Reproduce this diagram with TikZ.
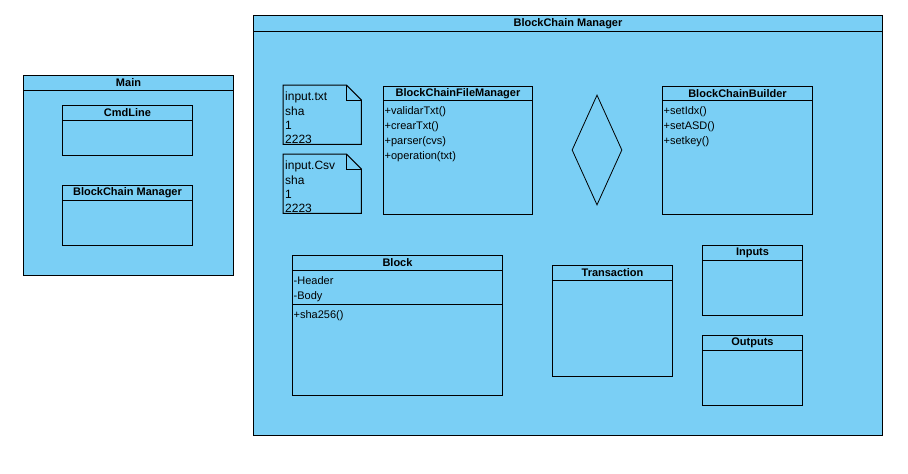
\documentclass[tikz,border=0pt]{standalone}
\usepackage{fontspec}
\setmainfont{Liberation Sans}
\usetikzlibrary{shapes.geometric}
\definecolor{umlblue}{RGB}{122,207,245}

\begin{document}
\begin{tikzpicture}
    [x=1pt,y=-1pt,
    box/.style={draw=black,fill=umlblue,line width=1pt,anchor=north west,inner sep=0pt},
    title/.style={font=\fontsize{11}{13}\selectfont\bfseries,minimum height=15,inner sep=0pt,anchor=north},
    ops/.style={align=left,anchor=north west,inner xsep=1.5pt,inner ysep=6pt,font=\fontsize{11}{15}\selectfont},
    note/.style={anchor=north west,minimum width=78,minimum height=59,inner sep=0pt},
    notetext/.style={align=left,anchor=north west,inner xsep=2pt,inner ysep=7pt,font=\fontsize{12}{14.3}\selectfont},
    edge/.style={line width=1pt}]

    \useasboundingbox (0,0) rectangle (908,474);

    % main package
    \node (main) [box,minimum width=210,minimum height=200] at (23,75) {};
    \node (mainT) [title] at (main.north) {Main};
    \draw [edge] (main.west |- mainT.south) -- (main.east |- mainT.south);

    \node (cmd) [box,minimum width=130,minimum height=50] at (62,105) {};
    \node (cmdT) [title] at (cmd.north) {CmdLine};
    \draw [edge] (cmd.west |- cmdT.south) -- (cmd.east |- cmdT.south);

    \node (ref) [box,minimum width=130,minimum height=60] at (62,185) {};
    \node (refT) [title] at (ref.north) {BlockChain Manager};
    \draw [edge] (ref.west |- refT.south) -- (ref.east |- refT.south);

    % blockchain manager package
    \node (mgr) [box,minimum width=629,minimum height=420] at (253,15) {};
    \node (mgrT) [title,minimum height=16] at (mgr.north) {BlockChain Manager};
    \draw [edge] (mgr.west |- mgrT.south) -- (mgr.east |- mgrT.south);

    % notes
    \node (txtnote) [note] at (283,85) {};
    \draw [edge,fill=umlblue] (txtnote.north west) -- ([xshift=-15pt]txtnote.north east)
      -- ([yshift=-15pt]txtnote.north east) -- (txtnote.south east) -- (txtnote.south west) -- cycle;
    \draw [edge] ([xshift=-15pt]txtnote.north east) |- ([yshift=-15pt]txtnote.north east);
    \node (txtnoteL) [notetext] at (txtnote.north west) {input.txt\\sha\\1\\2223};

    \node (csvnote) [note] at (283,154) {};
    \draw [edge,fill=umlblue] (csvnote.north west) -- ([xshift=-15pt]csvnote.north east)
      -- ([yshift=-15pt]csvnote.north east) -- (csvnote.south east) -- (csvnote.south west) -- cycle;
    \draw [edge] ([xshift=-15pt]csvnote.north east) |- ([yshift=-15pt]csvnote.north east);
    \node (csvnoteL) [notetext] at (csvnote.north west) {input.Csv\\sha\\1\\2223};

    % classes
    \node (files) [box,minimum width=149,minimum height=128] at (383,86) {};
    \node (filesT) [title,minimum height=14] at (files.north) {BlockChainFileManager};
    \draw [edge] (files.west |- filesT.south) -- (files.east |- filesT.south);
    \node (filesOps) [ops] at (files.west |- filesT.south) {+validarTxt()\\+crearTxt()\\+parser(cvs)\\+operation(txt)};

    \node (choice) [diamond,draw=black,line width=0.8pt,minimum width=50,minimum height=110,inner sep=0pt] at (597,150) {};

    \node (builder) [box,minimum width=150,minimum height=128] at (662,86) {};
    \node (builderT) [title,minimum height=14] at (builder.north) {BlockChainBuilder};
    \draw [edge] (builder.west |- builderT.south) -- (builder.east |- builderT.south);
    \node (builderOps) [ops] at (builder.west |- builderT.south) {+setIdx()\\+setASD()\\+setkey()};

    \node (block) [box,minimum width=210,minimum height=140] at (292,255) {};
    \node (blockT) [title] at (block.north) {Block};
    \draw [edge] (block.west |- blockT.south) -- (block.east |- blockT.south);
    \node (blockAttr) [ops] at (block.west |- blockT.south) {-Header\\-Body};
    \coordinate (blockSep) at ([yshift=-34pt]blockT.south);
    \draw [edge] (block.west |- blockSep) -- (block.east |- blockSep);
    \node (blockOps) [ops] at (block.west |- blockSep) {+sha256()};

    \node (tx) [box,minimum width=120,minimum height=111] at (552,265) {};
    \node (txT) [title] at (tx.north) {Transaction};
    \draw [edge] (tx.west |- txT.south) -- (tx.east |- txT.south);

    \node (ins) [box,minimum width=100,minimum height=70] at (702,245) {};
    \node (insT) [title] at (ins.north) {Inputs};
    \draw [edge] (ins.west |- insT.south) -- (ins.east |- insT.south);

    \node (outs) [box,minimum width=100,minimum height=70] at (702,335) {};
    \node (outsT) [title] at (outs.north) {Outputs};
    \draw [edge] (outs.west |- outsT.south) -- (outs.east |- outsT.south);

\end{tikzpicture}
\end{document}
